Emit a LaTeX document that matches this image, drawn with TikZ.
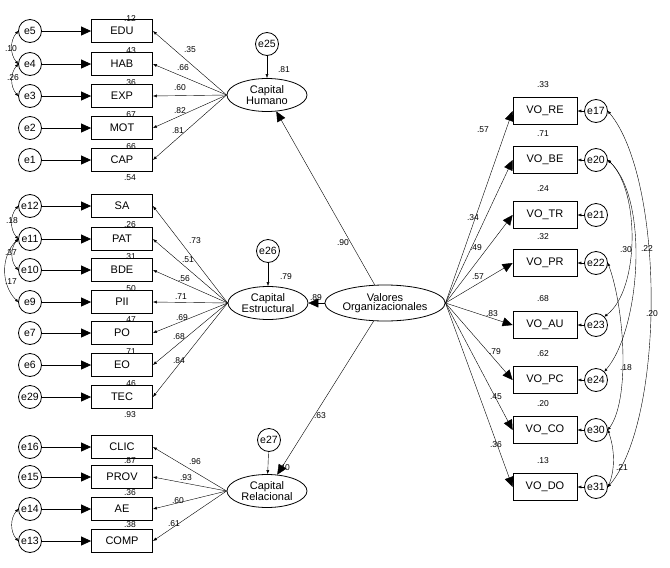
\documentclass[tikz,border=0pt]{standalone}
\usepackage{fontspec}
\setmainfont{Liberation Sans}
\usetikzlibrary{shapes.geometric,arrows.meta}
\begin{document}
\begin{tikzpicture}[x=1pt,y=-1pt,
  box/.style={draw,thick,minimum width=61pt,minimum height=23pt,inner sep=0pt,font=\fontsize{11}{12}\selectfont},
  rbox/.style={box,minimum width=64pt,minimum height=27pt},
  err/.style={draw,thick,circle,minimum size=23pt,inner sep=0pt,font=\fontsize{10.5}{11}\selectfont},
  lat/.style={draw,thick,ellipse,minimum width=80pt,minimum height=33pt,inner sep=0pt,align=center,font=\fontsize{11}{9.5}\selectfont},
  lab/.style={font=\fontsize{8.5}{9}\selectfont,inner sep=0pt},
  big/.style={-{Triangle[length=10pt,width=9pt]}},
  small/.style={-{Latex[length=4pt,width=3pt]}},
  cov/.style={{Latex[length=3pt,width=3pt]}-{Latex[length=3pt,width=3pt]}}]
\useasboundingbox (0,0) rectangle (670,568);
% latent
\node[lat] (CH) at (267,95) {Capital\\Humano};
\node[lat] (CE) at (268,303) {Capital\\Estructural};
\node[lat] (CR) at (267,491) {Capital\\Relacional};
\node[lat,minimum width=106pt,minimum height=36pt] (VO) at (385,303) {Valores\\Organizacionales};
\node[err] (e25) at (267,44) {e25};
\node[err] (e26) at (268,251) {e26};
\node[err] (e27) at (269,440) {e27};
\draw[small] (e25) -- (CH); \draw[small] (e26) -- (CE); \draw[small] (e27) -- (CR);
% left indicators
\foreach \n/\e/\y/\L/\P/\px/\py in {EDU/e5/31/CH/.35/190/50,HAB/e4/64/CH/.66/183/68,EXP/e3/96/CH/.60/180/88,MOT/e2/128/CH/.82/180/111,CAP/e1/160/CH/.81/178/131,
 SA/e12/206/CE/.73/195/241,PAT/e11/239/CE/.51/188/260,BDE/e10/270/CE/.56/184/279,PII/e9/302/CE/.71/181/297,PO/e7/333/CE/.69/182/318,EO/e6/365/CE/.68/179/337,TEC/e29/397/CE/.84/179/361,
 CLIC/e16/447/CR/.96/195/462,PROV/e15/477/CR/.93/186/478,AE/e14/509/CR/.60/178/501,COMP/e13/541/CR/.61/174/524}{
  \node[box] (\n) at (122,\y) {\n};
  \node[err] (\e) at (30,\y) {\e};
  \draw[thick,big] (\e) -- (\n);
  \draw[small] (\L.west) -- (\n.east);
  \node[lab] (p\n) at (\px,\py) {\P};
}
\foreach \t/\x/\y [count=\i] in {.12/130/19,.43/130/51,.36/130/83,.67/130/115,.66/130/147,.54/130/178,
 .26/130/225,.31/130/257,.50/130/289,.47/130/320,.71/130/352,.46/130/384,.93/130/415,
 .87/130/461,.36/130/493,.38/130/525,.81/284/70,.79/286/277,.40/284/468}{
  \node[lab] (r\i) at (\x,\y) {\t};
}
% left covariances
\draw[cov] (e5.west) to[bend right=40] (e4.west);
\draw[cov] (e4.west) to[bend right=40] (e3.west);
\draw[cov] (e12.west) to[bend right=40] (e11.west);
\draw[cov] (e11.west) to[bend right=40] (e10.west);
\draw[cov] (e11.west) to[bend right=45] (e9.west);
\draw[cov] (e14.west) to[bend right=40] (e13.west);
\foreach \t/\x/\y [count=\i] in {.10/11/49,.26/13/78,.18/12/221,.37/11/253,.17/11/282}{\node[lab] (c\i) at (\x,\y) {\t};}
% structural
\draw[big] (VO) -- (CH); \draw[big] (VO) -- (CE); \draw[big] (VO) -- (CR);
\node[lab] (s1) at (343,243) {.90};
\node[lab] (s2) at (316,298) {.89};
\node[lab] (s3) at (320,416) {.63};
% right indicators
\foreach \n/\e/\y/\P/\px/\py/\R in {VO\_RE/e17/111/.57/483/130/.33,VO\_BE/e20/160/.34/473/218/.71,VO\_TR/e21/215/.49/476/248/.24,VO\_PR/e22/263/.57/478/277/.32,
 VO\_AU/e23/325/.83/492/314/.68,VO\_PC/e24/380/.79/495/352/.62,VO\_CO/e30/430/.45/496/397/.20,VO\_DO/e31/487/.36/496/445/.13}{
  \node[rbox] (b\e) at (545,\y) {\n};
  \node[err] (\e) at (596,\y) {\e};
  \draw[small] (\e) -- (b\e);
  \draw[big] (VO.east) -- (b\e.west);
  \node[lab] (p\e) at (\px,\py) {\P};
  \node[lab] (r\e) at (543,\y-26) {\R};
}
% right covariances
\draw[cov] (e17.east) .. controls (665,180) and (665,420) .. (e31.east);
\draw[cov] (e20.east) .. controls (640,190) and (640,290) .. (e23.north east);
\draw[cov] (e20.east) .. controls (650,200) and (640,330) .. (e24.north east);
\draw[cov] (e22.east) .. controls (625,310) and (630,400) .. (e30.east);
\draw[cov] (e30.east) .. controls (615,450) and (615,470) .. (e31.east);
\node[lab] (k1) at (626,250) {.30};
\node[lab] (k2) at (647,249) {.22};
\node[lab] (k3) at (652,314) {.20};
\node[lab] (k4) at (626,368) {.18};
\node[lab] (k5) at (622,468) {.21};
\end{tikzpicture}
\end{document}
